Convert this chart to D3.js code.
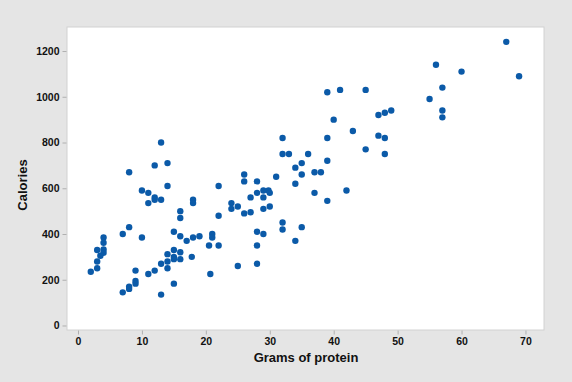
<!DOCTYPE html>
<html>
<head>
<meta charset="utf-8">
<script src="https://cdn.jsdelivr.net/npm/d3@7"></script>
<style>
html,body{margin:0;padding:0;background:#e5e5e5;}
svg{display:block;}
text{font-family:"Liberation Sans",Arial,sans-serif;}
</style>
</head>
<body>
<svg id="chart" width="572" height="382"></svg>
<script>
const protein = [8,12,13,14,26,67,56,60,69,57,39,41,45,55,57,57,47,48,49,40,43,39,47,48,32,32,33,36,45,48,39,34,35,35,37,38,31,28,34,27,28,29,29.8,30,29,37,42,39,29,30,27,32,32,35,34,28,29,28,28,26,14,22,10,11,12,12,13,11,18,18,24,25,24,26,22,16,16,15,16,17,18,19,21,21,20.5,22,25,20.7,7,8,10,4,4,4,4,3,3.5,3,3,2,9,11,12,13,14,14,14,15,15,15,16,16,17.8,9,9,8,8,7,13,15];
const calories = [670,700,800,710,660,1240,1140,1110,1090,1040,1020,1030,1030,990,940,910,920,930,940,900,850,820,830,820,820,750,750,750,770,750,720,690,710,660,670,670,650,630,620,560,580,590,590,580,560,580,590,545,510,520,495,450,420,430,370,410,400,350,270,630,610,610,590,580,560,550,550,535,550,535,535,520,510,490,480,500,470,410,390,370,385,390,400,385,350,350,260,225,400,430,385,385,362,332,318,330,305,280,250,235,240,225,240,270,280,250,312,330,300,290,320,290,300,195,183,170,160,145,135,183];
const xTicks = [0,10,20,30,40,50,60,70];
const yTicks = [0,200,400,600,800,1000,1200];
const xTitle = "Grams of protein";
const yTitle = "Calories";

const svg = d3.select("#chart");
const W = 572, H = 382;
const L = 67, R = 544, T = 27, B = 330;

svg.append("rect").attr("width", W).attr("height", H).attr("fill", "#e5e5e5");

const x = d3.scaleLinear().domain([-1.72, 72.9]).range([L, R]);
const y = d3.scaleLinear().domain([-19.7, 1305]).range([B, T]);

svg.append("rect").attr("x", L).attr("y", T).attr("width", R - L).attr("height", B - T)
  .attr("fill", "#ffffff").attr("stroke", "#d2d2d2").attr("stroke-width", 1);

const fmt = d3.format("d");
const xAxis = svg.append("g").attr("transform", `translate(0,${B + 0.5})`)
  .call(d3.axisBottom(x).tickValues(xTicks).tickFormat(fmt).tickSize(4).tickPadding(3).tickSizeOuter(0));
const yAxis = svg.append("g").attr("transform", `translate(${L - 0.5},0)`)
  .call(d3.axisLeft(y).tickValues(yTicks).tickFormat(fmt).tickSize(4).tickPadding(3).tickSizeOuter(0));

[xAxis, yAxis].forEach(a => {
  a.select(".domain").remove();
  a.selectAll(".tick line").attr("stroke", "#b0b0b0");
  a.selectAll(".tick text").attr("fill", "#111").attr("font-weight", "bold")
    .attr("font-size", "10.5px").attr("font-family", "'Liberation Sans',Arial,sans-serif");
});

svg.append("g").selectAll("circle").data(protein.map((p, i) => [p, calories[i]]))
  .join("circle")
  .attr("cx", d => x(d[0])).attr("cy", d => y(d[1])).attr("r", 3.2)
  .attr("fill", "#0b5aa8");

svg.append("text").attr("x", 306).attr("y", 362)
  .attr("text-anchor", "middle").attr("font-weight", "bold").attr("font-size", "13px")
  .attr("fill", "#111").text(xTitle);

svg.append("text").attr("transform", `translate(27,${185}) rotate(-90)`)
  .attr("text-anchor", "middle").attr("font-weight", "bold").attr("font-size", "13px")
  .attr("fill", "#111").text(yTitle);
</script>
</body>
</html>
